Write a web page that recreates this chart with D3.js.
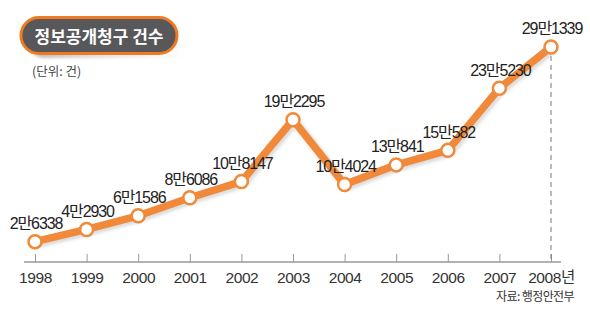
<!DOCTYPE html>
<html><head><meta charset="utf-8">
<script src="https://cdn.jsdelivr.net/npm/d3@7"></script>
<style>
html,body{margin:0;padding:0;background:#fff;}
svg{display:block;}
text{font-family:"Liberation Sans","Noto Sans CJK KR",sans-serif;}
</style></head>
<body>
<svg id="chart" width="590" height="322"></svg>
<script>
const years = ["1998","1999","2000","2001","2002","2003","2004","2005","2006","2007","2008"];
const yearLabels = ["1998","1999","2000","2001","2002","2003","2004","2005","2006","2007","2008년"];
const values = [26338,42930,61586,86086,108147,192295,104024,130841,150582,235230,291339];
const valueLabels = ["2만6338","4만2930","6만1586","8만6086","10만8147","19만2295","10만4024","13만841","15만582","23만5230","29만1339"];
const title = "정보공개청구 건수";
const unit = "(단위: 건)";
const source = "자료: 행정안전부";

const svg = d3.select("#chart");
const orange = "#f08a3a";

const x = d3.scalePoint().domain(years).range([35, 551]);
const y = d3.scaleLinear().domain([0, 300000]).range([261, 40.6]);

const defs = svg.append("defs");
const grad = defs.append("linearGradient").attr("id","shadowGrad").attr("x1",0).attr("x2",1).attr("y1",0).attr("y2",0);
grad.append("stop").attr("offset","0%").attr("stop-color","#999").attr("stop-opacity",0.7);
grad.append("stop").attr("offset","100%").attr("stop-color","#ccc").attr("stop-opacity",0);
const blur = defs.append("filter").attr("id","ds").attr("x","-20%").attr("y","-20%").attr("width","140%").attr("height","140%");
blur.append("feGaussianBlur").attr("stdDeviation",1.5);

// title pill
svg.append("rect").attr("x",27).attr("y",22).attr("width",163).attr("height",36).attr("rx",18)
  .attr("fill","url(#shadowGrad)").attr("filter","url(#ds)");
svg.append("rect").attr("x",21).attr("y",17.5).attr("width",156).attr("height",36).attr("rx",18)
  .attr("fill","#58585a").attr("stroke","#f07a22").attr("stroke-width",3);
svg.append("text").attr("x",99).attr("y",35.5).attr("text-anchor","middle").attr("dominant-baseline","central")
  .attr("fill","#fff").attr("font-size",17).attr("font-weight","bold")
  .style("font-family","'Noto Sans CJK KR',sans-serif").text(title);
svg.append("text").attr("x",32).attr("y",70).attr("dominant-baseline","central")
  .attr("fill","#444").attr("font-size",12.5).style("font-family","'Noto Sans CJK KR',sans-serif").text(unit);

// axis
const axisY = 262;
const axis = d3.axisBottom(x).tickSizeInner(-8).tickSizeOuter(0).tickPadding(10)
  .tickFormat((d,i)=>yearLabels[i]);
const gA = svg.append("g").attr("transform",`translate(0,${axisY})`).call(axis);
gA.select(".domain").remove();
gA.insert("line",":first-child").attr("x1",24).attr("x2",561).attr("y1",0).attr("y2",0)
  .attr("stroke","#999").attr("stroke-width",1.5);
gA.selectAll(".tick line").attr("stroke","#999").attr("stroke-width",1);
gA.selectAll(".tick text").attr("fill","#333").attr("font-size",15.5).attr("letter-spacing","-0.4")
  .style("font-family","'Liberation Sans','Noto Sans CJK KR',sans-serif");

// dashed line at last point
const last = years[years.length-1];
svg.append("line").attr("x1",x(last)).attr("x2",x(last)).attr("y1",y(values[values.length-1])).attr("y2",axisY)
  .attr("stroke","#777").attr("stroke-dasharray","5,4").attr("stroke-width",1);

// line
const line = d3.line().x((d,i)=>x(years[i])).y(d=>y(d));
svg.append("path").datum(values).attr("d",line).attr("fill","none")
  .attr("stroke","#bbb").attr("stroke-width",9).attr("stroke-opacity",0.5)
  .attr("transform","translate(2,2)").attr("filter","url(#ds)").attr("stroke-linejoin","round");
svg.append("path").datum(values).attr("d",line).attr("fill","none")
  .attr("stroke",orange).attr("stroke-width",7.5).attr("stroke-linejoin","round");

// points
svg.selectAll("circle.pt").data(values).enter().append("circle").attr("class","pt")
  .attr("cx",(d,i)=>x(years[i])).attr("cy",d=>y(d)).attr("r",6.5)
  .attr("fill","#fff").attr("stroke",orange).attr("stroke-width",2.5);

// value labels
svg.selectAll("text.vl").data(values).enter().append("text").attr("class","vl")
  .attr("x",(d,i)=>x(years[i])+1).attr("y",d=>y(d)-18)
  .attr("text-anchor","middle").attr("dominant-baseline","central")
  .attr("fill","#222").attr("font-size",16).attr("letter-spacing","-1.1")
  .text((d,i)=>valueLabels[i]);

// source
svg.append("text").attr("x",574).attr("y",295).attr("text-anchor","end").attr("dominant-baseline","central")
  .attr("fill","#333").attr("font-size",12).attr("letter-spacing","-0.6")
  .style("font-family","'Noto Sans CJK KR',sans-serif").text(source);
</script>
</body></html>
